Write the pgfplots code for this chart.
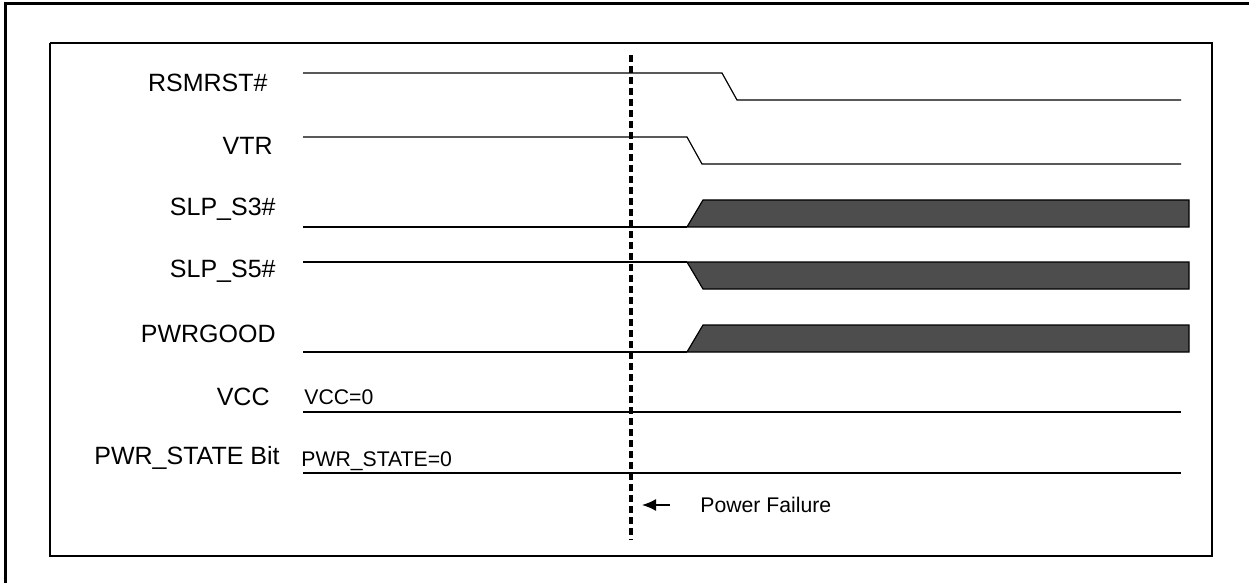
\documentclass[border=0pt]{standalone}
\usepackage{pgfplots}
\pgfplotsset{compat=1.18}
\usetikzlibrary{arrows.meta}
\usepackage{fontspec}
\setmainfont{Liberation Sans}
\definecolor{band}{HTML}{4D4D4D}
\begin{document}
\begin{tikzpicture}
\begin{axis}[
  x=0.5pt, y=0.5pt, scale only axis,
  xmin=0, xmax=1249, ymin=0, ymax=583, y dir=reverse,
  axis line style={draw=none}, ticks=none, clip=true,
  every axis plot/.append style={line join=miter},
]
% frames
\addplot[black, line width=1.2pt] coordinates {(5.5,600) (5.5,3.5) (1260,3.5)};
\addplot[black, line width=1.2pt] coordinates {(50,43) (1212,43) (1212,556) (50,556) (50,43)};
% RSMRST#
\addplot[black, line width=0.6pt] coordinates {(303,73) (722,73) (737,100) (1181,100)};
% VTR
\addplot[black, line width=0.6pt] coordinates {(303,137) (687,137) (702,164) (1181,164)};
% SLP_S3#
\addplot[black, line width=0.6pt] coordinates {(303,227) (687,227)};
\addplot[draw=black, fill=band, line width=0.6pt] coordinates {(687,227) (703,200) (1189,200) (1189,227) (687,227)};
% SLP_S5#
\addplot[black, line width=0.6pt] coordinates {(303,262) (687,262)};
\addplot[draw=black, fill=band, line width=0.6pt] coordinates {(687,262) (1189,262) (1189,289) (703,289) (687,262)};
% PWRGOOD
\addplot[black, line width=0.6pt] coordinates {(303,352) (687,352)};
\addplot[draw=black, fill=band, line width=0.6pt] coordinates {(687,352) (703,325) (1189,325) (1189,352) (687,352)};
% VCC, PWR_STATE
\addplot[black, line width=0.6pt] coordinates {(303,412) (1181,412)};
\addplot[black, line width=0.6pt] coordinates {(303,473) (1181,473)};
% power failure marker
\addplot[black, line width=1.6pt, dash pattern=on 3.4pt off 2.1pt] coordinates {(631,55) (631,540)};
\addplot[black, line width=0.8pt, -{Latex[length=7pt,width=6pt]}] coordinates {(670,505) (642,505)};
% labels
\begin{scope}[every node/.style={font=\fontsize{12.5}{15}\selectfont, inner sep=0pt}]
\node[anchor=east] at (axis cs:268,83) {RSMRST\#};
\node[anchor=east] at (axis cs:273,146) {VTR};
\node[anchor=east] at (axis cs:276,209) {SLP\_S3\#};
\node[anchor=east] at (axis cs:276,271) {SLP\_S5\#};
\node[anchor=east] at (axis cs:276,334) {PWRGOOD};
\node[anchor=east] at (axis cs:270,397) {VCC};
\node[anchor=east] at (axis cs:280,458) {PWR\_STATE Bit};
\end{scope}
\begin{scope}[every node/.style={font=\fontsize{10.6}{12}\selectfont, inner sep=0pt}]
\node[anchor=west] at (axis cs:304,397) {VCC=0};
\node[anchor=west] at (axis cs:301,461) {PWR\_STATE=0};
\node[anchor=west] at (axis cs:700,505) {Power Failure};
\end{scope}
\end{axis}
\end{tikzpicture}
\end{document}
